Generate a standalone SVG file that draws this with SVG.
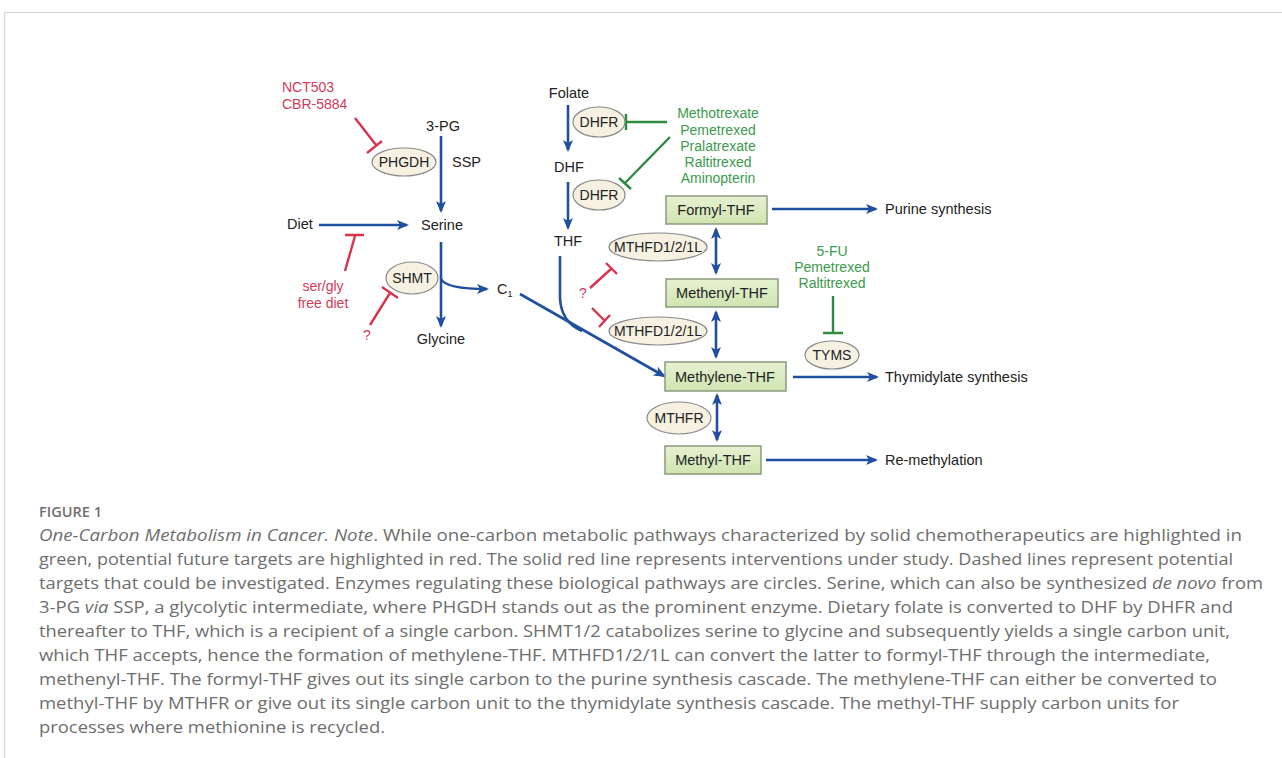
<svg xmlns="http://www.w3.org/2000/svg" width="1282" height="758" viewBox="0 0 1282 758">
<defs>
<marker id="ab" viewBox="0 0 12 10" markerWidth="12" markerHeight="10" refX="10" refY="5" orient="auto-start-reverse" markerUnits="userSpaceOnUse">
<path d="M0,0 L12,5 L0,10 L3,5 z" fill="#1f4f9e"/>
</marker>
<linearGradient id="gb" x1="0" y1="0" x2="0" y2="1">
<stop offset="0" stop-color="#e6f2d2"/>
<stop offset="1" stop-color="#cfe4b1"/>
</linearGradient>
<style>
.t{font-family:"Liberation Sans",Arial,sans-serif;font-size:14.5px;fill:#222}
.s{font-size:14px}
.c{text-anchor:middle}
.r{font-family:"Liberation Sans",Arial,sans-serif;font-size:14px;fill:#d23a5a}
.g{font-family:"Liberation Sans",Arial,sans-serif;font-size:14px;fill:#3c9a4c;text-anchor:middle}
.b{stroke:#1f4f9e;stroke-width:2.6;fill:none}
.ar{marker-end:url(#ab)}
.da{marker-start:url(#ab);marker-end:url(#ab)}
.rl{stroke:#d8344e;stroke-width:2.4;fill:none}
.gl{stroke:#2e8a3e;stroke-width:2.4;fill:none}
.e{fill:#f6f1e1;stroke:#8a8a8a;stroke-width:1.2}
.bx{fill:url(#gb);stroke:#8a9a7e;stroke-width:1.5}
.cap{font-family:"Open Sans","Lato",sans-serif;font-size:17px;fill:#6e6e6e}
</style>
</defs>
<rect width="1282" height="758" fill="#fff"/>
<path d="M4.5,758 L4.5,12.5 L1282,12.5" fill="none" stroke="#d4d4d4" stroke-width="1.2"/>

<g id="connectors">
<path class="b ar" d="M441,136 L441,211"/>
<path class="b ar" d="M319,225 L407,225"/>
<path class="b ar" d="M441,242 L441,326"/>
<path class="b ar" d="M441,279 Q446,289 487,289"/>
<path class="b ar" d="M520,294 L664,376"/>
<path class="b" d="M560,256 L560,298 Q561,322 582,331"/>
<path class="b ar" d="M568,105 L568,150"/>
<path class="b ar" d="M568,182 L568,228"/>
<path class="b ar" d="M772,209 L876,209"/>
<path class="b da" d="M716,229 L716,273"/>
<path class="b da" d="M716,312 L716,357"/>
<path class="b ar" d="M793,377 L877,377"/>
<path class="b da" d="M717,395 L717,440"/>
<path class="b ar" d="M766,460 L876,460"/>
<!-- red inhibitions -->
<path class="rl" d="M355,118 L376,145 M367,153 L382,141"/>
<path class="rl" d="M345,271 L355,236 M345,235 L364,235"/>
<path class="rl" d="M370,325 L390,293 M382,287 L398,298"/>
<path class="rl" d="M590,288 L611,269 M606,263 L617,274"/>
<path class="rl" d="M592,308 L605,321 M599,327 L610,315"/>
<!-- green inhibitions -->
<path class="gl" d="M667,122 L626,122 M626,114 L626,130"/>
<path class="gl" d="M670,137 L625,183 M619,178 L631,189"/>
<path class="gl" d="M833,296 L833,333 M823,333 L843,333"/>
</g>

<g id="n-nct"><text class="r" x="282" y="92">NCT503</text><text class="r" x="282" y="109">CBR-5884</text></g>
<g id="n-3pg"><text class="t c" x="443" y="131">3-PG</text></g>
<g id="n-phgdh"><ellipse class="e" cx="404" cy="162" rx="32" ry="14"/><text class="t s c" x="404" y="167">PHGDH</text></g>
<g id="n-ssp"><text class="t" x="452" y="167">SSP</text></g>
<g id="n-diet"><text class="t" x="287" y="229">Diet</text></g>
<g id="n-serine"><text class="t c" x="442" y="230">Serine</text></g>
<g id="n-serglydiet"><text class="r c" x="323" y="291">ser/gly</text><text class="r c" x="323" y="308">free diet</text></g>
<g id="n-shmt"><ellipse class="e" cx="412" cy="278" rx="26" ry="16"/><text class="t s c" x="412" y="283">SHMT</text></g>
<g id="n-q1"><text class="r c" x="367" y="340">?</text></g>
<g id="n-c1"><text class="t" x="497" y="294">C<tspan font-size="9" dy="3">1</tspan></text></g>
<g id="n-glycine"><text class="t c" x="441" y="344">Glycine</text></g>

<g id="n-folate"><text class="t c" x="569" y="98">Folate</text></g>
<g id="n-dhfr1"><ellipse class="e" cx="599" cy="122" rx="26" ry="15"/><text class="t s c" x="599" y="127">DHFR</text></g>
<g id="n-dhf"><text class="t c" x="569" y="172">DHF</text></g>
<g id="n-dhfr2"><ellipse class="e" cx="599" cy="195" rx="26" ry="15"/><text class="t s c" x="599" y="200">DHFR</text></g>
<g id="n-thf"><text class="t c" x="568" y="246">THF</text></g>
<g id="n-drugs1"><text class="g" x="718" y="118">Methotrexate</text><text class="g" x="718" y="135">Pemetrexed</text><text class="g" x="718" y="151">Pralatrexate</text><text class="g" x="718" y="167">Raltitrexed</text><text class="g" x="718" y="183">Aminopterin</text></g>

<g id="n-formyl"><rect class="bx" x="666" y="196" width="101" height="28"/><text class="t c" x="716" y="215">Formyl-THF</text></g>
<g id="n-purine"><text class="t" x="885" y="214">Purine synthesis</text></g>
<g id="n-mthfd1"><ellipse class="e" cx="658" cy="247" rx="49" ry="14"/><text class="t s c" x="658" y="252">MTHFD1/2/1L</text></g>
<g id="n-methenyl"><rect class="bx" x="666" y="279" width="112" height="28"/><text class="t c" x="722" y="298">Methenyl-THF</text></g>
<g id="n-q2"><text class="r c" x="583" y="298">?</text></g>
<g id="n-mthfd2"><ellipse class="e" cx="658" cy="331" rx="49" ry="14"/><text class="t s c" x="658" y="336">MTHFD1/2/1L</text></g>
<g id="n-methylene"><rect class="bx" x="665" y="362" width="121" height="29"/><text class="t c" x="725" y="381.5">Methylene-THF</text></g>
<g id="n-thymidylate"><text class="t" x="885" y="382">Thymidylate synthesis</text></g>
<g id="n-drugs2"><text class="g" x="832" y="256">5-FU</text><text class="g" x="832" y="272">Pemetrexed</text><text class="g" x="832" y="288">Raltitrexed</text></g>
<g id="n-tyms"><ellipse class="e" cx="832" cy="355" rx="27" ry="14"/><text class="t s c" x="832" y="360">TYMS</text></g>
<g id="n-mthfr"><ellipse class="e" cx="679" cy="418" rx="32" ry="16"/><text class="t s c" x="679" y="423">MTHFR</text></g>
<g id="n-methyl"><rect class="bx" x="665" y="446" width="96" height="28"/><text class="t c" x="713" y="465">Methyl-THF</text></g>
<g id="n-remeth"><text class="t" x="885" y="465">Re-methylation</text></g>

<g id="caption">
<text x="39" y="517" font-family="'Open Sans',sans-serif" font-size="14" font-weight="600" fill="#6e6e6e" textLength="63" lengthAdjust="spacingAndGlyphs">FIGURE 1</text>
<text class="cap" x="39" y="541" textLength="1203" lengthAdjust="spacingAndGlyphs"><tspan font-style="italic">One-Carbon Metabolism in Cancer. Note</tspan>. While one-carbon metabolic pathways characterized by solid chemotherapeutics are highlighted in</text>
<text class="cap" x="39" y="565" textLength="1194" lengthAdjust="spacingAndGlyphs">green, potential future targets are highlighted in red. The solid red line represents interventions under study. Dashed lines represent potential</text>
<text class="cap" x="39" y="589" textLength="1224" lengthAdjust="spacingAndGlyphs">targets that could be investigated. Enzymes regulating these biological pathways are circles. Serine, which can also be synthesized <tspan font-style="italic">de novo</tspan> from</text>
<text class="cap" x="39" y="613" textLength="1194" lengthAdjust="spacingAndGlyphs">3-PG <tspan font-style="italic">via</tspan> SSP, a glycolytic intermediate, where PHGDH stands out as the prominent enzyme. Dietary folate is converted to DHF by DHFR and</text>
<text class="cap" x="39" y="637" textLength="1191" lengthAdjust="spacingAndGlyphs">thereafter to THF, which is a recipient of a single carbon. SHMT1/2 catabolizes serine to glycine and subsequently yields a single carbon unit,</text>
<text class="cap" x="39" y="661" textLength="1171" lengthAdjust="spacingAndGlyphs">which THF accepts, hence the formation of methylene-THF. MTHFD1/2/1L can convert the latter to formyl-THF through the intermediate,</text>
<text class="cap" x="39" y="685" textLength="1178" lengthAdjust="spacingAndGlyphs">methenyl-THF. The formyl-THF gives out its single carbon to the purine synthesis cascade. The methylene-THF can either be converted to</text>
<text class="cap" x="39" y="709" textLength="1140" lengthAdjust="spacingAndGlyphs">methyl-THF by MTHFR or give out its single carbon unit to the thymidylate synthesis cascade. The methyl-THF supply carbon units for</text>
<text class="cap" x="39" y="733" textLength="346" lengthAdjust="spacingAndGlyphs">processes where methionine is recycled.</text>
</g>
</svg>
